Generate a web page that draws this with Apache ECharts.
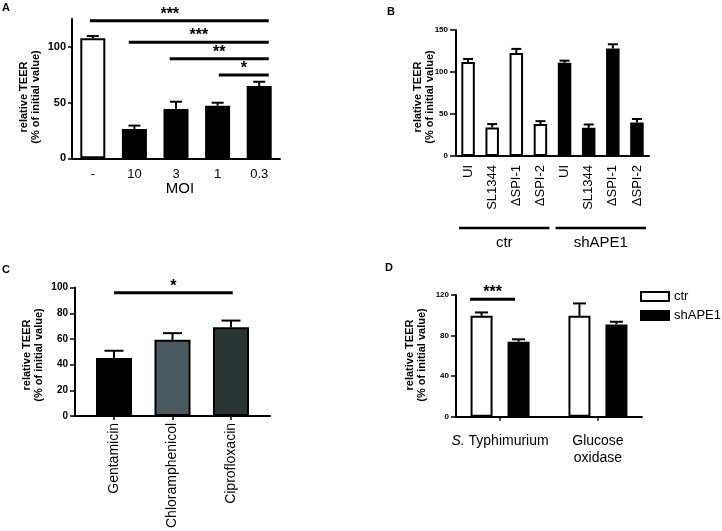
<!DOCTYPE html>
<html><head><meta charset="utf-8">
<script src="https://cdn.jsdelivr.net/npm/echarts@6/dist/echarts.min.js"></script>
<style>html,body{margin:0;padding:0;background:#fff}#c{width:722px;height:531px}</style>
</head><body><div id="c"></div>
<script>
// ---------- Panel A ----------
const aCategories = ['-', '10', '3', '1', '0.3'];
const aValues = [107.5, 26.3, 44.2, 47.1, 64.8];
const aErrors = [2.0, 3.0, 6.5, 2.7, 3.8];
const aYTicks = [0, 50, 100];
// [from index, to index, y value, label, label index]
const aSig = [[-0.07, 4.23, 123.3, '***', 1.85], [0.865, 4.23, 103.9, '***'], [1.85, 4.23, 89.2, '**'], [3.03, 4.23, 74.6, '*']];
// ---------- Panel B ----------
const bCategories = ['UI', 'SL1344', 'ΔSPI-1', 'ΔSPI-2', 'UI', 'SL1344', 'ΔSPI-1', 'ΔSPI-2'];
const bValues = [112, 34, 122.5, 38, 111, 33.5, 128, 40];
const bErrors = [3.5, 4, 5, 3.5, 2.5, 4, 5, 4];
const bGroups = [[0, 3, 'ctr'], [4, 7, 'shAPE1']];
const bYTicks = [0, 50, 100, 150];
// ---------- Panel C ----------
const cCategories = ['Gentamicin', 'Chloramphenicol', 'Ciprofloxacin'];
const cValues = [45.2, 59.3, 69.2];
const cErrors = [5.6, 5.2, 5.1];
const cYTicks = [0, 20, 40, 60, 80, 100];
const cSig = [[0, 2.03, 95.9, '*']];
// ---------- Panel D ----------
const dCategories = ['S. Typhimurium', 'Glucose\noxidase'];
const dSeriesNames = ['ctr', 'shAPE1'];
const dCtr = [99.5, 99.5];
const dCtrErr = [3.3, 12.2];
const dSh = [74, 91];
const dShErr = [2.3, 2.6];
const dYTicks = [0, 40, 80, 120];
const dSig = [[-0.306, 0.153, 115.7, '***']];

const FF = 'Liberation Sans, Arial, sans-serif';
const cFills = ['#000000', '#4a5a60', '#2a3535'];
const D_BAR_W = 22, D_GAP = 15;

function yAx(gi, max, ticks, fs, margin, tickLen) {
  return {
    type: 'value', gridIndex: gi, min: 0, max: max,
    axisLine: {show: true, onZero: false, lineStyle: {color: '#000', width: 2}},
    axisTick: {show: true, length: tickLen, customValues: ticks, lineStyle: {color: '#000', width: 1.5}},
    axisLabel: {customValues: ticks, fontFamily: FF, fontWeight: 'bold', fontSize: fs, color: '#000', margin: margin},
    splitLine: {show: false}
  };
}
function xPx(api, v) { return api.coord([0, 0])[0] + v * api.size([1, 0])[0]; }

function errSeries(gi, vals, errs, capW, offset) {
  return {
    type: 'custom', xAxisIndex: gi, yAxisIndex: gi, z: 3, silent: true,
    data: vals.map((v, i) => [i, v, errs[i]]),
    encode: {x: 0, y: 1},
    renderItem: function (params, api) {
      const i = params.dataIndex;
      const v = vals[i], e = errs[i];
      const base = api.coord([i, v]);
      const top = api.coord([i, v + e]);
      const cx = base[0] + (offset || 0);
      return {type: 'group', children: [
        {type: 'line', shape: {x1: cx, y1: base[1], x2: cx, y2: top[1]}, style: {stroke: '#000', lineWidth: 2}},
        {type: 'line', shape: {x1: cx - capW / 2, y1: top[1], x2: cx + capW / 2, y2: top[1]}, style: {stroke: '#000', lineWidth: 2}}
      ]};
    }
  };
}
function sigSeries(gi, arr) {
  return {
    type: 'custom', xAxisIndex: gi, yAxisIndex: gi, z: 4, silent: true,
    data: arr.map(d => [0, d[2]]),
    encode: {y: 1},
    renderItem: function (params, api) {
      const d = arr[params.dataIndex];
      const x1 = xPx(api, d[0]), x2 = xPx(api, d[1]);
      const y = api.coord([0, d[2]])[1];
      const lx = d[4] != null ? xPx(api, d[4]) : (x1 + x2) / 2;
      return {type: 'group', children: [
        {type: 'line', shape: {x1: x1, y1: y, x2: x2, y2: y}, style: {stroke: '#000', lineWidth: 3}},
        {type: 'text', x: lx, y: y - 6.5, style: {text: d[3], fill: '#000', font: 'bold 16px ' + FF, textAlign: 'center', textVerticalAlign: 'middle'}}
      ]};
    }
  };
}

const chart = echarts.init(document.getElementById('c'), null, {renderer: 'canvas'});
chart.setOption({
  animation: false,
  backgroundColor: '#fff',
  grid: [
    {left: 72, top: 18.8, width: 208, height: 139.5},
    {left: 456, top: 30, width: 193, height: 126},
    {left: 75, top: 287.6, width: 195, height: 129.1},
    {left: 456, top: 295, width: 186, height: 121.7}
  ],
  legend: {
    data: dSeriesNames, orient: 'vertical', left: 640, top: 290, padding: 0, itemWidth: 28, itemHeight: 9, itemGap: 6,
    icon: 'rect', selectedMode: false,
    textStyle: {fontSize: 13, fontFamily: FF, color: '#000'}
  },
  xAxis: [
    {type: 'category', gridIndex: 0, data: aCategories,
     axisLine: {lineStyle: {color: '#000', width: 2}}, axisTick: {show: false},
     axisLabel: {fontFamily: FF, fontSize: 13, color: '#000', margin: 10}},
    {type: 'category', gridIndex: 1, data: bCategories,
     axisLine: {lineStyle: {color: '#000', width: 2}},
     axisTick: {alignWithLabel: true, length: 3, lineStyle: {color: '#000', width: 1.5}},
     axisLabel: {fontFamily: FF, fontSize: 13, color: '#000', margin: 9, rotate: 90, interval: 0}},
    {type: 'value', gridIndex: 2, min: -0.667, max: 2.667, splitLine: {show: false},
     axisLine: {onZero: false, lineStyle: {color: '#000', width: 2}},
     axisTick: {customValues: [0, 1, 2], length: 4, lineStyle: {color: '#000', width: 1.5}},
     axisLabel: {customValues: [0, 1, 2], formatter: v => cCategories[Math.round(v)], fontFamily: FF, fontSize: 14, color: '#000', margin: 7, rotate: 90}},
    {type: 'value', gridIndex: 3, min: -0.45, max: 1.45, splitLine: {show: false},
     axisLine: {onZero: false, lineStyle: {color: '#000', width: 2}},
     axisTick: {customValues: [0, 1], length: 4, lineStyle: {color: '#000', width: 1.5}},
     axisLabel: {customValues: [0, 1], formatter: v => dCategories[Math.round(v)].replace(/^S\. /, '{i|S.} '),
       fontFamily: FF, fontSize: 14, lineHeight: 17, color: '#000', margin: 16,
       rich: {i: {fontStyle: 'italic', fontFamily: FF, fontSize: 14, color: '#000'}}}}
  ],
  yAxis: [
    yAx(0, 125, aYTicks, 11, 6, 4),
    yAx(1, 150, bYTicks, 8, 8, 6),
    yAx(2, 100, cYTicks, 10, 7, 5),
    yAx(3, 120, dYTicks, 8, 7, 5)
  ],
  series: [
    {name: 'A', type: 'bar', xAxisIndex: 0, yAxisIndex: 0, barWidth: 25, data: aValues,
     itemStyle: {color: p => p.dataIndex === 0 ? '#fff' : '#000', borderColor: '#000', borderWidth: 2}},
    errSeries(0, aValues, aErrors, 12, 0),
    sigSeries(0, aSig),
    {name: 'B', type: 'bar', xAxisIndex: 1, yAxisIndex: 1, barWidth: 13.5, data: bValues,
     itemStyle: {color: p => p.dataIndex < 4 ? '#fff' : '#000', borderColor: '#000', borderWidth: 2}},
    errSeries(1, bValues, bErrors, 10, 0),
    {type: 'custom', xAxisIndex: 1, yAxisIndex: 1, silent: true,
     data: bGroups.map(g => [g[0], 0]), encode: {x: 0, y: 1},
     renderItem: function (params, api) {
       const g = bGroups[params.dataIndex];
       const x1 = api.coord([g[0], 0])[0] - 9, x2 = api.coord([g[1], 0])[0] + 9;
       const y = api.coord([0, 0])[1] + 72;
       return {type: 'group', children: [
         {type: 'line', shape: {x1: x1, y1: y, x2: x2, y2: y}, style: {stroke: '#000', lineWidth: 2.5}},
         {type: 'text', x: (x1 + x2) / 2, y: y + 15, style: {text: g[2], fill: '#000', font: '15px ' + FF, textAlign: 'center', textVerticalAlign: 'middle'}}
       ]};
     }},
    {name: 'C', type: 'bar', xAxisIndex: 2, yAxisIndex: 2, barWidth: 36, data: cValues.map((v, i) => [i, v]),
     itemStyle: {color: p => cFills[p.dataIndex], borderColor: '#000', borderWidth: 2}},
    errSeries(2, cValues, cErrors, 19, 0),
    sigSeries(2, cSig),
    {name: dSeriesNames[0], type: 'bar', xAxisIndex: 3, yAxisIndex: 3, barWidth: D_BAR_W, barGap: (D_GAP / D_BAR_W * 100) + '%',
     data: dCtr.map((v, i) => [i, v]), itemStyle: {color: '#fff', borderColor: '#000', borderWidth: 2}},
    {name: dSeriesNames[1], type: 'bar', xAxisIndex: 3, yAxisIndex: 3, barWidth: D_BAR_W, barGap: (D_GAP / D_BAR_W * 100) + '%',
     data: dSh.map((v, i) => [i, v]), itemStyle: {color: '#000', borderColor: '#000', borderWidth: 2}},
    errSeries(3, dCtr, dCtrErr, 13, -(D_BAR_W + D_GAP) / 2),
    errSeries(3, dSh, dShErr, 13, (D_BAR_W + D_GAP) / 2),
    sigSeries(3, dSig)
  ],
  graphic: [
    {type: 'text', x: 2, y: 8, style: {text: 'A', font: 'bold 11px ' + FF, fill: '#000', textVerticalAlign: 'middle'}},
    {type: 'text', x: 387, y: 12, style: {text: 'B', font: 'bold 11px ' + FF, fill: '#000', textVerticalAlign: 'middle'}},
    {type: 'text', x: 2, y: 270, style: {text: 'C', font: 'bold 11px ' + FF, fill: '#000', textVerticalAlign: 'middle'}},
    {type: 'text', x: 385, y: 268, style: {text: 'D', font: 'bold 11px ' + FF, fill: '#000', textVerticalAlign: 'middle'}},
    {type: 'text', x: 29.5, y: 97, rotation: Math.PI / 2, style: {text: 'relative TEER\n(% of initial value)', font: 'bold 11px ' + FF, lineHeight: 12, fill: '#000', textAlign: 'center', textVerticalAlign: 'middle'}},
    {type: 'text', x: 423.5, y: 97, rotation: Math.PI / 2, style: {text: 'relative TEER\n(% of initial value)', font: 'bold 11px ' + FF, lineHeight: 12, fill: '#000', textAlign: 'center', textVerticalAlign: 'middle'}},
    {type: 'text', x: 32.5, y: 355, rotation: Math.PI / 2, style: {text: 'relative TEER\n(% of initial value)', font: 'bold 11px ' + FF, lineHeight: 12, fill: '#000', textAlign: 'center', textVerticalAlign: 'middle'}},
    {type: 'text', x: 416, y: 355, rotation: Math.PI / 2, style: {text: 'relative TEER\n(% of initial value)', font: 'bold 11px ' + FF, lineHeight: 12, fill: '#000', textAlign: 'center', textVerticalAlign: 'middle'}},
    {type: 'text', x: 180, y: 189, style: {text: 'MOI', font: '15px ' + FF, fill: '#000', textAlign: 'center', textVerticalAlign: 'middle'}}
  ]
});
</script>
</body></html>
